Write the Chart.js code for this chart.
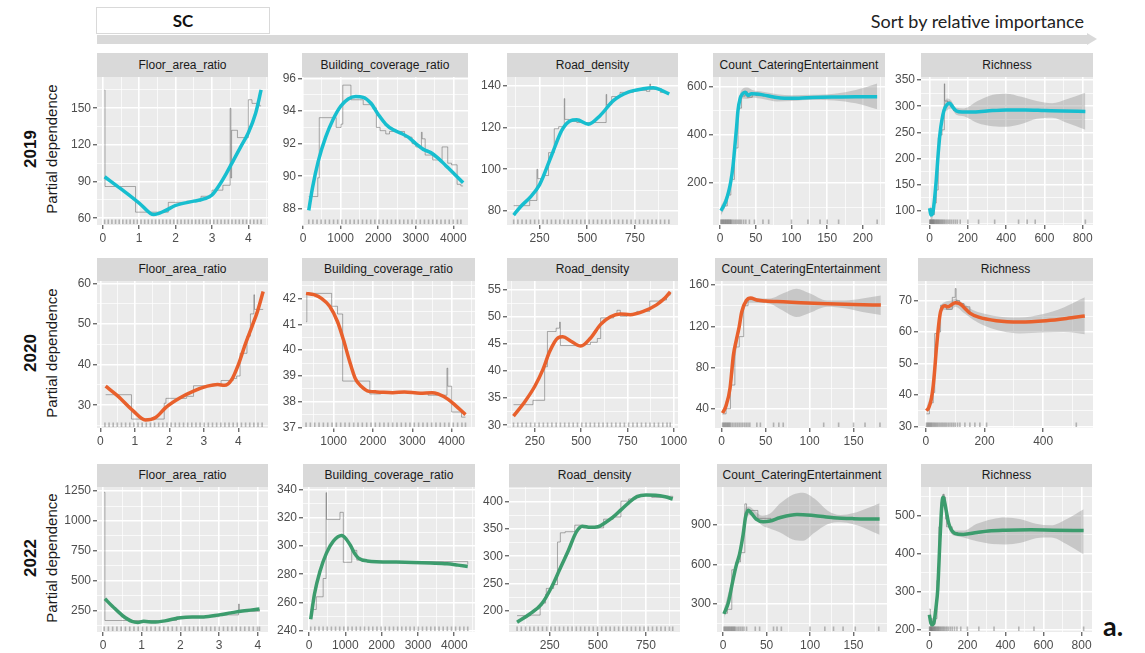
<!DOCTYPE html>
<html>
<head>
<meta charset="utf-8">
<script src="https://cdn.jsdelivr.net/npm/chart.js@4.4.1/dist/chart.umd.min.js"></script>
<style>
  body { margin: 0; background: #fff; width: 1145px; height: 653px; overflow: hidden; position: relative;
         font-family: "Liberation Sans", Arial, sans-serif; }
  canvas { position: absolute; }
  .strip { position: absolute; background: #D9D9D9; color: #1A1A1A; font-size: 12px; text-align: center;
           white-space: nowrap; overflow: hidden; }
  .rot { position: absolute; width: 240px; height: 22px; line-height: 22px; text-align: center;
         transform: rotate(-90deg); white-space: nowrap; }
</style>
</head>
<body>
<script>
// ---------- 2019 ----------
var far19Fit = [[0.05,94],[0.5,84],[1,72.5],[1.4,63],[1.7,66],[2,70.5],[2.5,74],[2.8,76],[3.0,79],[3.2,87],[3.4,97],[3.6,108],[3.8,119],[4.0,130],[4.2,146],[4.35,165]];
var far19Pdp = [[0.05,165],[0.06,86],[0.9,65],[1.8,73],[2.3,74],[2.7,78],[3.0,83],[3.3,87],[3.5,150],[3.52,93],[3.54,132],[3.7,126],[4.0,157],[4.1,154],[4.3,152],[4.35,152]];
var far19Rug = [0.05,0.15,0.25,0.35,0.45,0.55,0.65,0.75,0.85,0.95,1.05,1.15,1.25,1.35,1.45,1.55,1.65,1.75,1.85,1.95,2.05,2.15,2.25,2.35,2.45,2.55,2.65,2.75,2.85,2.95,3.05,3.15,3.25,3.35,3.45,3.55,3.65,3.75,3.85,3.95,4.05,4.15,4.25,4.35];

var bcr19Fit = [[150,87.9],[250,89.3],[400,90.9],[600,92.4],[800,93.5],[1000,94.3],[1200,94.75],[1400,94.9],[1600,94.85],[1800,94.5],[2000,93.8],[2200,93.2],[2400,92.85],[2600,92.65],[2800,92.4],[3000,92.0],[3200,91.65],[3400,91.45],[3600,91.1],[3800,90.65],[4000,90.2],[4260,89.6]];
var bcr19Pdp = [[150,88.75],[390,89.9],[430,93.6],[880,93.0],[1010,93.2],[1056,95.6],[1273,94.7],[1600,94.4],[1850,94.2],[1950,93.0],[2050,92.8],[2200,92.6],[2300,92.75],[2700,92.4],[2900,92.0],[3000,91.8],[3150,92.7],[3170,92.3],[3250,91.3],[3450,91.0],[3700,91.8],[3850,90.8],[3950,90.7],[4100,89.5],[4200,89.4],[4260,89.4]];
var bcr19Rug = [150,260,370,480,590,700,810,920,1030,1140,1250,1360,1470,1580,1690,1800,1910,2020,2130,2240,2350,2460,2570,2680,2790,2900,3010,3120,3230,3340,3450,3560,3670,3780,3890,4000,4110,4200];

var rd19Fit = [[114,78],[150,82],[200,86.5],[250,92.6],[314,107],[367,118.8],[410,123.3],[445,123.8],[506,121.7],[567,125.8],[637,133],[715,137.1],[793,138.7],[846,139.2],[890,138],[930,136.2]];
var rd19Pdp = [[114,82.5],[198,85],[236,100],[240,95.5],[271,97],[297,108],[327,119.5],[350,120.5],[379,134],[382,124],[402,123],[445,122.5],[599,136],[602,131],[628,135],[672,137],[742,138],[811,137.5],[828,141],[832,138.5],[884,137],[930,137]];
var rd19Rug = [114,136,158,180,202,224,246,268,290,312,334,356,378,400,422,444,466,488,510,532,554,576,598,620,642,664,686,708,730,752,774,796,818,840,862,884,906,928];

var cce19Fit = [[1,85],[4,100],[8,125],[12,165],[15,207],[18,270],[20,332],[23,430],[25,500],[28,550],[31,568],[35,576],[39,563],[44,570],[52,569],[60,565],[75,556],[90,551],[110,551],[130,554],[160,556],[190,557],[220,557]];
var cce19Up  = [[1,105],[8,145],[15,225],[20,350],[25,520],[30,585],[38,595],[45,585],[60,578],[80,568],[100,563],[130,565],[160,570],[190,585],[220,612]];
var cce19Lo  = [[1,65],[8,108],[15,190],[20,315],[25,480],[30,550],[38,548],[45,553],[60,548],[80,538],[100,540],[130,545],[160,542],[190,530],[220,505]];
var cce19Pdp = [[1,95],[5,105],[10,150],[15,215],[20,345],[25,510],[30,560],[35,578],[38,555],[45,570],[50,562],[60,560],[70,558]];
var cce19Rug = [1,2,3,4,5,6,7,8,9,10,11,12,13,14,15,16,18,20,22,24,26,28,30,33,36,41,48,60,68,100,123,140,150,166,220];

var ric19Fit = [[0,105],[7,92],[15,94],[25,120],[35,160],[45,210],[55,250],[65,275],[75,292],[90,303],[105,306],[120,299],[140,291],[170,289],[220,289],[300,291],[400,293],[500,293],[600,292],[700,291],[814,290]];
var ric19Up  = [[0,115],[10,102],[25,130],[40,190],[55,260],[70,296],[90,315],[110,312],[140,297],[180,296],[250,310],[330,322],[400,324],[480,318],[560,310],[640,306],[720,314],[814,326]];
var ric19Lo  = [[0,95],[10,82],[25,110],[40,170],[55,238],[70,282],[90,292],[110,296],[140,284],[180,281],[250,268],[330,262],[400,261],[480,266],[560,276],[640,278],[720,268],[814,255]];
var ric19Pdp = [[0,105],[10,93],[25,115],[35,140],[45,240],[55,258],[60,245],[65,255],[77,343],[79,310],[95,308],[110,300],[125,292],[150,290],[170,290]];
var ric19Rug = [1,3,5,8,10,13,15,18,20,23,26,30,34,38,42,46,50,55,60,65,70,76,82,90,98,106,115,125,135,145,160,200,256,340,465,510,552,814];

// ---------- 2020 ----------
var far20Fit = [[0.15,34.7],[0.5,32.3],[0.95,28.6],[1.3,26.4],[1.6,27],[1.9,29.5],[2.3,31.8],[2.7,33.5],[3.1,34.7],[3.4,35.1],[3.6,34.9],[3.8,36.2],[4.0,40],[4.2,45],[4.4,49.5],[4.55,53],[4.72,58]];
var far20Pdp = [[0.15,32.6],[0.9,26.6],[1.85,30.5],[1.9,31.7],[2.5,32.2],[2.7,34.8],[3.3,35.1],[3.5,36.1],[3.85,36.6],[3.95,37.2],[4.05,42.8],[4.25,47],[4.35,52.5],[4.45,57.2],[4.47,53.6],[4.72,53.6]];
var far20Rug = [0.13,0.25,0.37,0.49,0.61,0.73,0.85,0.97,1.09,1.21,1.33,1.45,1.57,1.69,1.81,1.93,2.05,2.17,2.29,2.41,2.53,2.65,2.77,2.89,3.01,3.13,3.25,3.37,3.49,3.61,3.73,3.85,3.97,4.09,4.21,4.33,4.45,4.57,4.69];

var bcr20Fit = [[300,42.2],[500,42.15],[700,42.0],[900,41.7],[1100,41.1],[1250,40.4],[1400,39.6],[1550,38.9],[1700,38.6],[1900,38.4],[2100,38.38],[2500,38.35],[2800,38.38],[3200,38.33],[3500,38.35],[3650,38.3],[3900,38.1],[4100,37.85],[4350,37.5]];
var bcr20Pdp = [[300,41.1],[320,42.2],[950,41.7],[1100,41.4],[1230,38.8],[1920,38.3],[2200,38.35],[3400,38.25],[3880,39.3],[3900,38.6],[4000,37.6],[4250,37.4],[4350,37.4]];
var bcr20Rug = [300,410,520,630,740,850,960,1070,1180,1290,1400,1510,1620,1730,1840,1950,2060,2170,2280,2390,2500,2610,2720,2830,2940,3050,3160,3270,3380,3490,3600,3710,3820,3930,4040,4150,4260,4350];

var rd20Fit = [[135,31.7],[197,34.4],[250,37.2],[294,40.3],[330,43.6],[374,46.1],[401,46.3],[445,45.5],[498,44.6],[551,46.1],[605,48.6],[658,50],[711,50.5],[764,50.4],[835,51],[906,52.2],[950,53.4],[980,54.6]];
var rd20Pdp = [[135,33.8],[240,34.6],[303,40.8],[318,47.3],[365,47.9],[383,49],[388,44.7],[507,44.9],[550,45.3],[587,46],[605,49.8],[640,49.8],[675,50.4],[693,51.2],[711,50.1],[747,50.5],[800,51],[870,52.9],[924,53.1],[960,54],[980,54.6]];
var rd20Rug = [135,158,181,204,227,250,273,296,319,342,365,388,411,434,457,480,503,526,549,572,595,618,641,664,687,710,733,756,779,802,825,848,871,894,917,940,963,980];

var cce20Fit = [[1,35.8],[5,43],[9.5,60],[13.3,92],[17,108],[20,120],[22.8,134],[28,145],[33,147.5],[40,145.5],[50,144.5],[70,143.8],[90,143],[120,142],[150,141.3],[181,140.6]];
var cce20Up  = [[1,38],[10,64],[20,124],[30,148.5],[40,147.5],[55,147],[70,152],[85,156.5],[100,152],[120,145],[140,145],[160,147],[181,150]];
var cce20Lo  = [[1,33],[10,57],[20,114],[30,143],[40,143],[55,142],[70,135],[85,129],[100,133],[120,139],[140,137.5],[160,134],[181,131]];
var cce20Pdp = [[1,35],[5,40],[10,63],[15,100],[20,110],[25,140],[30,146],[40,144],[60,143.5]];
var cce20Rug = [1,2,3,4,5,6,7,8,9,10,12,14,16,18,20,22,24,26,28,30,32,40,44,59,65,70,116,133,150,163,180];

var ric20Fit = [[2,35],[10,36],[18,38.5],[25,43],[30,48],[35,54],[40,59],[45,63.5],[50,66.5],[57,68],[65,68.3],[75,68],[85,68.5],[100,69.3],[115,69],[130,67.8],[150,66],[180,64.7],[240,63.6],[320,63.2],[410,63.6],[480,64.3],[542,65.1]];
var ric20Up  = [[2,36],[25,44],[40,60],[50,67.5],[65,69.5],[85,70],[100,70.5],[130,69],[160,67],[200,65.8],[260,64.8],[320,64.6],[400,65.7],[470,67.8],[542,71]];
var ric20Lo  = [[2,33.5],[25,41.5],[40,58],[50,65.5],[65,67],[85,67],[100,68],[130,66],[160,64],[200,62],[260,60.2],[320,59.5],[400,59.8],[470,60],[542,59.3]];
var ric20Pdp = [[2,34],[12,37.5],[25,40.8],[30,59.5],[40,60],[50,68.5],[70,67.2],[90,71],[100,73.8],[103,70],[115,69],[130,68],[150,66]];
var ric20Rug = [2,5,8,11,14,17,20,24,28,32,36,40,45,50,55,60,65,70,76,82,88,94,100,108,116,133,150,167,184,207,513];

// ---------- 2022 ----------
var far22Fit = [[0.05,350],[0.25,285],[0.5,210],[0.75,160],[0.9,152],[1.05,162],[1.3,155],[1.6,165],[2.0,192],[2.3,198],[2.6,198],[3.0,215],[3.3,232],[3.6,248],[4.04,264]];
var far22Pdp = [[0.03,1240],[0.05,168],[1.9,198],[2.6,200],[3.0,215],[3.5,305],[3.52,245],[4.04,262]];
var far22Rug = [0.03,0.14,0.25,0.36,0.47,0.58,0.69,0.8,0.91,1.02,1.13,1.24,1.35,1.46,1.57,1.68,1.79,1.9,2.01,2.12,2.23,2.34,2.45,2.56,2.67,2.78,2.89,3,3.11,3.22,3.33,3.44,3.55,3.66,3.77,3.88,3.99,4.04];

var bcr22Fit = [[46,248],[150,266],[300,282],[480,295],[670,303.5],[900,307.5],[1130,301],[1250,295],[1360,291.5],[1600,289.5],[2400,288.7],[3350,288],[3800,287.5],[4100,286.5],[4370,285.5]];
var bcr22Pdp = [[46,255],[200,264],[389,277],[470,338],[480,319],[852,324],[944,288.5],[1176,297],[1315,290],[1600,289],[4370,287]];
var bcr22Rug = [46,160,274,388,502,616,730,844,958,1072,1186,1300,1414,1528,1642,1756,1870,1984,2098,2212,2326,2440,2554,2668,2782,2896,3010,3124,3238,3352,3466,3580,3694,3808,3922,4036,4150,4264,4370];

var rd22Fit = [[80,179],[146,194],[207,212],[259,243],[302,276],[345,309],[389,345],[420,355],[460,353],[500,354],[540,362],[580,372],[620,385],[660,398],[701,409],[750,412.5],[800,412],[850,409],[889,405]];
var rd22Pdp = [[80,191],[150,192],[200,214],[228,230],[232,241],[270,248],[290,326],[305,343],[330,345],[380,357],[420,352],[530,368],[580,372],[620,401],[660,405],[700,412],[780,408],[830,410],[889,408]];
var rd22Rug = [80,102,124,146,168,190,212,234,256,278,300,322,344,366,388,410,432,454,476,498,520,542,564,586,608,630,652,674,696,718,740,762,784,806,828,850,872,889];

var cce22Fit = [[1,225],[6,310],[11,470],[15,590],[19,680],[23,825],[26,965],[29,1012],[33,985],[38,945],[46,925],[54,930],[65,955],[85,980],[104,972],[127,955],[150,948],[180,945]];
var cce22Up  = [[1,260],[10,480],[20,730],[26,1030],[30,1040],[36,1010],[45,970],[55,990],[65,1060],[80,1130],[92,1145],[105,1100],[120,1010],[135,975],[150,990],[165,1025],[180,1065]];
var cce22Lo  = [[1,190],[10,440],[20,680],[26,920],[30,975],[36,955],[45,895],[55,870],[65,845],[80,790],[92,780],[105,840],[120,905],[135,920],[150,905],[165,870],[180,825]];
var cce22Pdp = [[1,230],[5,260],[10,560],[15,620],[20,690],[25,1060],[27,1000],[32,1010],[40,950],[55,930]];
var cce22Rug = [1,2,3,4,5,6,7,8,9,10,11,12,13,14,16,18,20,22,24,27,37,42,58,62,67,100,117,127,138,152,179];

var ric22Fit = [[0,240],[8,218],[15,214],[25,222],[35,260],[44,306],[50,370],[55,428],[62,500],[68,540],[73,547],[80,535],[89,511],[100,482],[111,466],[133,453],[178,450],[250,455],[311,459],[400,461],[533,462],[650,461],[811,460]];
var ric22Up  = [[0,255],[15,222],[30,250],[45,360],[60,520],[70,556],[80,552],[95,505],[115,468],[140,460],[180,460],[250,478],[330,490],[400,494],[480,490],[560,478],[640,474],[720,490],[811,516]];
var ric22Lo  = [[0,225],[15,205],[30,220],[45,340],[60,490],[70,536],[80,528],[95,480],[115,452],[140,446],[180,442],[250,432],[330,425],[400,424],[480,428],[560,440],[640,442],[720,425],[811,398]];
var ric22Pdp = [[0,255],[5,230],[15,215],[30,230],[40,330],[50,470],[62,535],[72,555],[78,548],[85,490],[90,470],[120,455],[150,450]];
var ric22Rug = [1,3,5,7,9,11,13,15,18,21,24,27,30,34,38,42,46,50,55,60,66,72,78,85,92,100,110,120,132,145,165,200,260,340,470,550,811];

// tick labels
var farTicks = [0,1,2,3,4];
var bcrTicks = [0,1000,2000,3000,4000];
var rdTicks = [250,500,750,1000];
var cceTicks = [0,50,100,150,200];
var ricTicks = [0,200,400,600,800];
var far19Y = [60,90,120,150], bcr19Y = [88,90,92,94,96], rd19Y = [80,100,120,140], cce19Y = [200,400,600], ric19Y = [100,150,200,250,300,350];
var far20Y = [30,40,50,60], bcr20Y = [37,38,39,40,41,42], rd20Y = [30,35,40,45,50,55], cce20Y = [40,80,120,160], ric20Y = [30,40,50,60,70];
var far22Y = [250,500,750,1000,1250], bcr22Y = [240,260,280,300,320,340], rd22Y = [200,250,300,350,400], cce22Y = [300,600,900], ric22Y = [200,300,400,500];

var rowYears = ['2019', '2020', '2022'];
var rowColors = ['#17BECF', '#E8602C', '#3C9C6D'];

var panels = [
  // row 1
  {row:0, t:'Floor_area_ratio', L:97, R:268, x:[-0.16,4.54], xt:farTicks, y:[54.5,175.6], yt:far19Y, fit:far19Fit, pdp:far19Pdp, rug:far19Rug},
  {row:0, t:'Building_coverage_ratio', L:302, R:468, x:[-30,4390], xt:bcrTicks, y:[87.0,96.1], yt:bcr19Y, fit:bcr19Fit, pdp:bcr19Pdp, rug:bcr19Rug},
  {row:0, t:'Road_density', L:507, R:678, x:[79,976], xt:rdTicks, y:[73.2,144.4], yt:rd19Y, fit:rd19Fit, pdp:rd19Pdp, rug:rd19Rug},
  {row:0, t:'Count_CateringEntertainment', L:713, R:885, x:[-10,231], xt:cceTicks, y:[26,639], yt:cce19Y, fit:cce19Fit, pdp:cce19Pdp, up:cce19Up, lo:cce19Lo, rug:cce19Rug},
  {row:0, t:'Richness', L:921, R:1093, x:[-45,854], xt:ricTicks, y:[73,356], yt:ric19Y, fit:ric19Fit, pdp:ric19Pdp, up:ric19Up, lo:ric19Lo, rug:ric19Rug},
  // row 2
  {row:1, t:'Floor_area_ratio', L:97, R:268, x:[-0.1,4.86], xt:farTicks, y:[24.4,60.6], yt:far20Y, fit:far20Fit, pdp:far20Pdp, rug:far20Rug},
  {row:1, t:'Building_coverage_ratio', L:302, R:475, x:[197,4592], xt:bcrTicks, y:[36.98,42.68], yt:bcr20Y, fit:bcr20Fit, pdp:bcr20Pdp, rug:bcr20Rug},
  {row:1, t:'Road_density', L:507, R:678, x:[100,1022], xt:rdTicks, y:[29.5,56.6], yt:rd20Y, fit:rd20Fit, pdp:rd20Pdp, rug:rd20Rug},
  {row:1, t:'Count_CateringEntertainment', L:715, R:887, x:[-7.6,188], xt:cceTicks, y:[21.3,164], yt:cce20Y, fit:cce20Fit, pdp:cce20Pdp, up:cce20Up, lo:cce20Lo, rug:cce20Rug},
  {row:1, t:'Richness', L:918, R:1093, x:[-27,570], xt:ricTicks, y:[29.5,76.2], yt:ric20Y, fit:ric20Fit, pdp:ric20Pdp, up:ric20Up, lo:ric20Lo, rug:ric20Rug},
  // row 3
  {row:2, t:'Floor_area_ratio', L:97, R:268, x:[-0.154,4.26], xt:farTicks, y:[72,1284], yt:far22Y, fit:far22Fit, pdp:far22Pdp, rug:far22Rug},
  {row:2, t:'Building_coverage_ratio', L:303, R:475, x:[-166,4570], xt:bcrTicks, y:[239,342], yt:bcr22Y, fit:bcr22Fit, pdp:bcr22Pdp, rug:bcr22Rug},
  {row:2, t:'Road_density', L:509, R:680, x:[38,927], xt:rdTicks, y:[161,427], yt:rd22Y, fit:rd22Fit, pdp:rd22Pdp, rug:rd22Rug},
  {row:2, t:'Count_CateringEntertainment', L:717, R:887, x:[-7,188.5], xt:cceTicks, y:[88,1188], yt:cce22Y, fit:cce22Fit, pdp:cce22Pdp, up:cce22Up, lo:cce22Lo, rug:cce22Rug},
  {row:2, t:'Richness', L:921, R:1092, x:[-44,855], xt:ricTicks, y:[195,574], yt:ric22Y, fit:ric22Fit, pdp:ric22Pdp, up:ric22Up, lo:ric22Lo, rug:ric22Rug}
];

// row layout: strip top, plot top, plot bottom
var rowBox = [{s:53, t:77, b:225}, {s:258, t:281, b:428}, {s:464, t:487, b:632}];

function addDiv(css, text, cls) {
  var d = document.createElement('div');
  if (cls) d.className = cls;
  d.style.cssText = css;
  if (text) d.textContent = text;
  document.body.appendChild(d);
  return d;
}

// header
addDiv('position:absolute;left:97px;top:35px;width:990px;height:9px;background:#D9D9D9;');
addDiv('position:absolute;left:1087px;top:33px;width:0;height:0;border-top:6.5px solid transparent;border-bottom:6.5px solid transparent;border-left:10px solid #D9D9D9;');
addDiv('position:absolute;left:96px;top:7px;width:172px;height:25px;background:#fff;border:1.5px solid #D9D9D9;' +
       'font-family:Lato,"Open Sans",sans-serif;font-weight:bold;font-size:17px;line-height:25px;text-align:center;color:#111;', 'SC');
addDiv('position:absolute;right:61px;top:9px;height:24px;line-height:24px;font-family:Lato,"Open Sans",sans-serif;font-size:18px;color:#222;white-space:nowrap;',
       'Sort by relative importance');
addDiv('position:absolute;left:1103px;top:609px;font-family:Lato,"Open Sans",sans-serif;font-weight:bold;font-size:27px;line-height:34px;color:#111;', 'a.');

// row labels
rowBox.forEach(function (rb, i) {
  var cy = (rb.t + rb.b) / 2 - 2;
  addDiv('left:' + (31 - 120) + 'px;top:' + (cy - 11) + 'px;font-weight:bold;font-size:17px;color:#111;', rowYears[i], 'rot');
  addDiv('left:' + (52 - 120) + 'px;top:' + (cy - 11) + 'px;font-size:15px;color:#1A1A1A;', 'Partial dependence', 'rot');
});

var panelBg = {
  id: 'panelBg',
  beforeDraw: function (chart) {
    var a = chart.chartArea, ctx = chart.ctx;
    ctx.save();
    ctx.fillStyle = '#EBEBEB';
    ctx.fillRect(a.left, a.top, a.right - a.left, a.bottom - a.top);
    ctx.restore();
  }
};

// rug marks along the bottom of each panel
var rugPlugin = {
  id: 'rug',
  beforeDatasetsDraw: function (chart, args, opts) {
    var xs = opts.values || [], sx = chart.scales.x, b = chart.chartArea.bottom, ctx = chart.ctx;
    ctx.save();
    ctx.strokeStyle = 'rgba(120,120,120,0.5)';
    ctx.lineWidth = 1.6;
    xs.forEach(function (v) {
      var px = sx.getPixelForValue(v);
      ctx.beginPath();
      ctx.moveTo(px, b - 1);
      ctx.lineTo(px, b - 5.5);
      ctx.stroke();
    });
    ctx.restore();
  }
};

function withMinor(min, max, major) {
  var step = major[1] - major[0];
  var all = major.slice();
  for (var i = -1; i < major.length; i++) {
    all.push(major[0] + step * (i + 0.5));
  }
  return all.filter(function (v) { return v >= min && v <= max; }).sort(function (a, b) { return a - b; });
}

function axis(range, major, fit) {
  var isMajor = function (v) { return major.indexOf(v) >= 0; };
  return {
    type: 'linear', min: range[0], max: range[1], bounds: 'data',
    afterBuildTicks: function (s) {
      s.ticks = withMinor(range[0], range[1], major).map(function (v) { return {value: v}; });
    },
    afterFit: fit,
    ticks: {
      autoSkip: false, maxRotation: 0, minRotation: 0, padding: 2, color: '#4D4D4D',
      font: {family: 'Liberation Sans', size: 12},
      callback: function (v) { return isMajor(v) ? String(v) : ''; }
    },
    grid: {
      color: '#FFFFFF',
      lineWidth: function (c) { return c.tick && isMajor(c.tick.value) ? 1.6 : 0.7; },
      tickLength: 4, tickWidth: 1,
      tickColor: function (c) { return c.tick && isMajor(c.tick.value) ? '#333333' : 'rgba(0,0,0,0)'; }
    },
    border: {display: false}
  };
}

function pts(a) { return a.map(function (p) { return {x: p[0], y: p[1]}; }); }

panels.forEach(function (p) {
  var rb = rowBox[p.row];
  var padT = 10, padR = 16, yW = 40, xH = 22;
  var W = (p.R - p.L) + yW + padR, H = (rb.b - rb.t) + padT + xH;

  addDiv('left:' + p.L + 'px;top:' + rb.s + 'px;width:' + (p.R - p.L) + 'px;height:' + (rb.t - rb.s) + 'px;line-height:' + (rb.t - rb.s) + 'px;', p.t, 'strip');

  var cv = document.createElement('canvas');
  cv.width = W; cv.height = H;
  cv.style.left = (p.L - yW) + 'px';
  cv.style.top = (rb.t - padT) + 'px';
  cv.style.width = W + 'px'; cv.style.height = H + 'px';
  document.body.appendChild(cv);

  var ds = [
    {data: pts(p.fit), borderColor: rowColors[p.row], borderWidth: 3.5, pointRadius: 0,
     cubicInterpolationMode: 'monotone', fill: false},
    {data: pts(p.pdp), borderColor: 'rgba(95,95,95,0.5)', borderWidth: 1, pointRadius: 0,
     stepped: true, fill: false}
  ];
  if (p.up) {
    ds.push({data: pts(p.up), borderWidth: 0, borderColor: 'rgba(0,0,0,0)', pointRadius: 0,
             backgroundColor: 'rgba(150,150,150,0.42)', fill: '+1', cubicInterpolationMode: 'monotone'});
    ds.push({data: pts(p.lo), borderWidth: 0, borderColor: 'rgba(0,0,0,0)', pointRadius: 0,
             fill: false, cubicInterpolationMode: 'monotone'});
  }

  new Chart(cv.getContext('2d'), {
    type: 'line',
    data: {datasets: ds},
    options: {
      responsive: false, animation: false, devicePixelRatio: 1, events: [],
      layout: {padding: {top: padT, right: padR, left: 0, bottom: 0}},
      scales: {
        x: axis(p.x, p.xt, function (s) { s.height = xH; }),
        y: axis(p.y, p.yt, function (s) { s.width = yW; })
      },
      plugins: {legend: {display: false}, tooltip: {enabled: false}, rug: {values: p.rug}}
    },
    plugins: [panelBg, rugPlugin]
  });
});
</script>
</body>
</html>
